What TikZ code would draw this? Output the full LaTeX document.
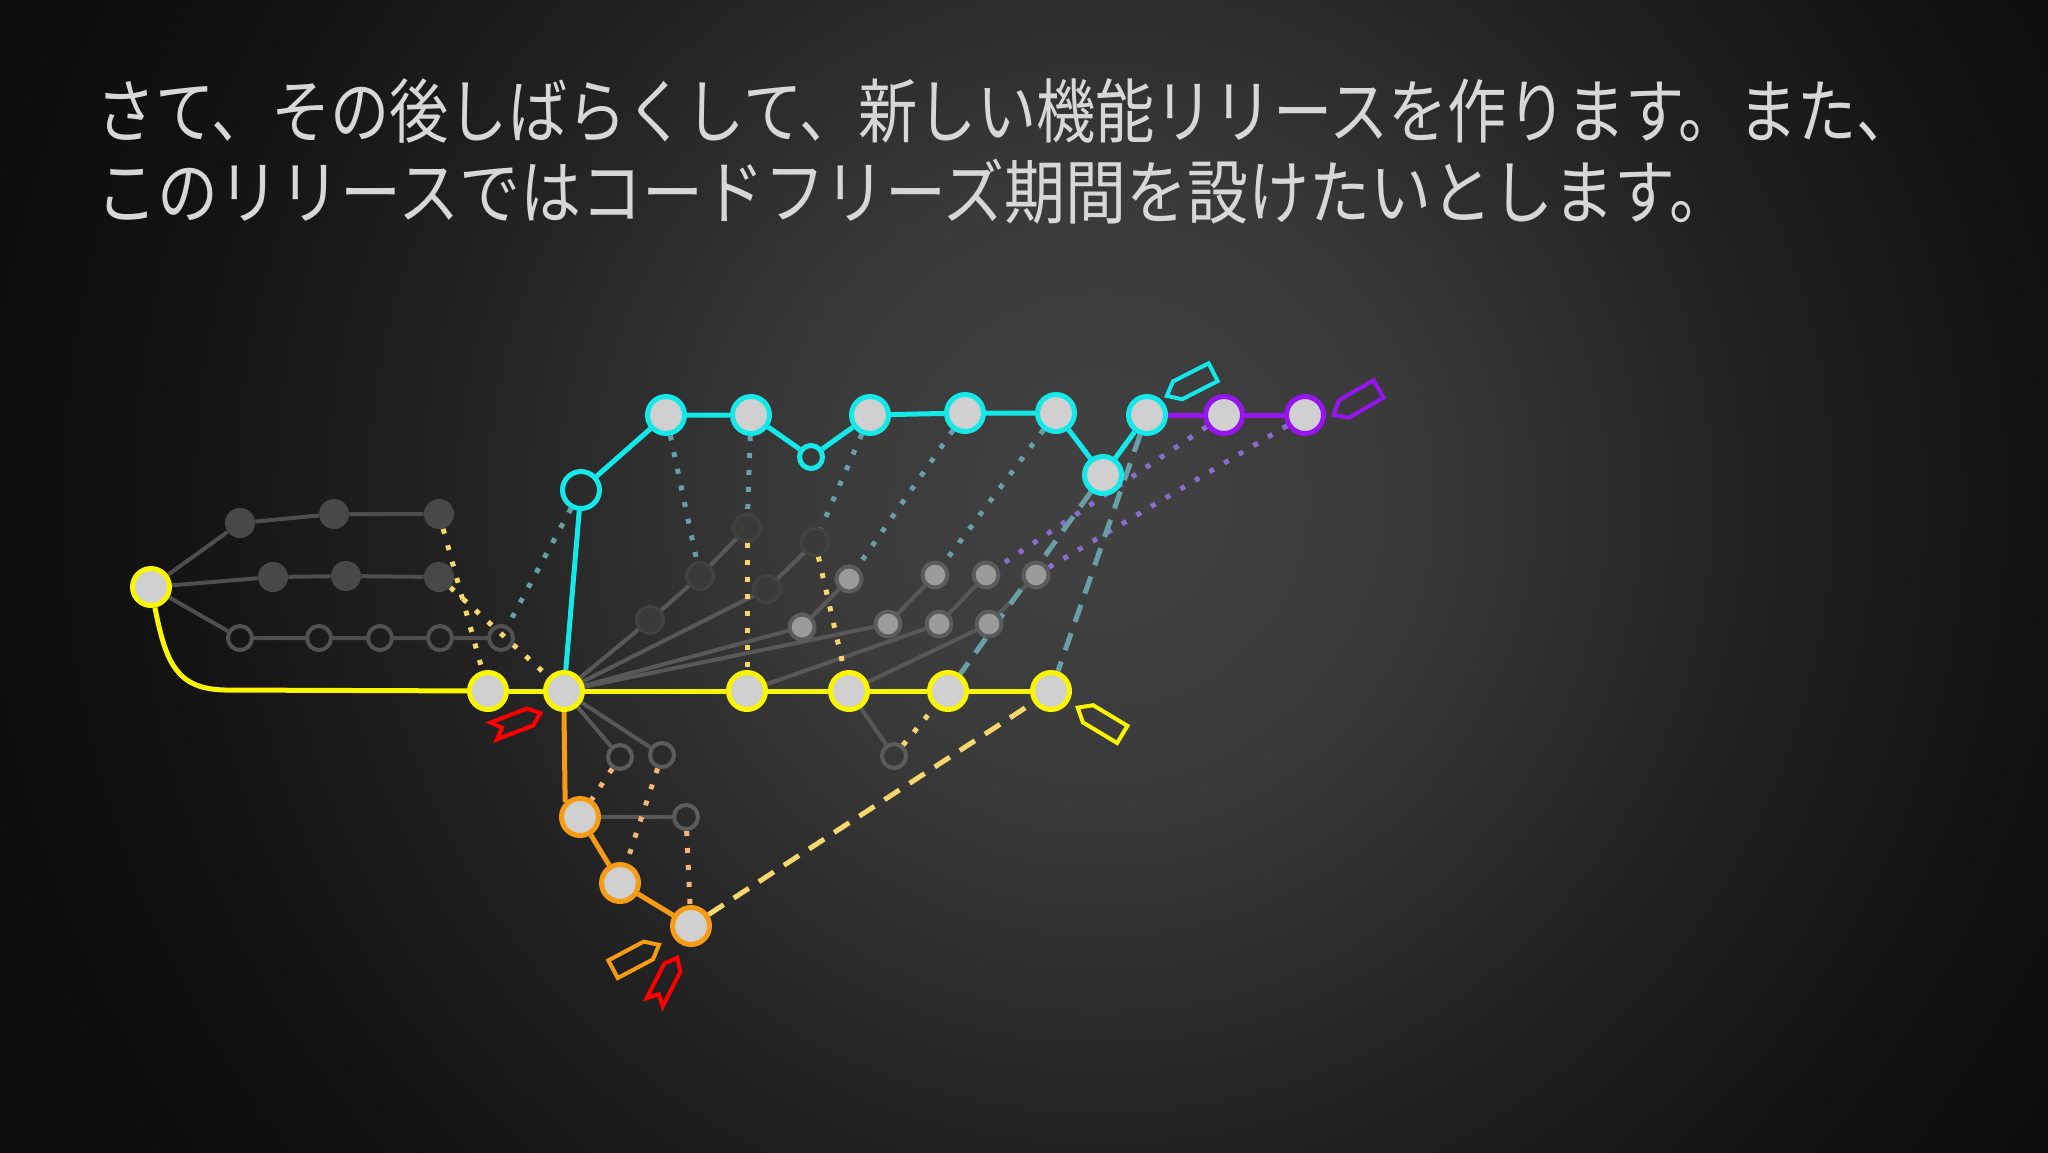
\documentclass[tikz,border=0pt]{standalone}
\usepackage{fontspec}
\newfontfamily\jpfonta[FakeStretch=0.846]{Noto Sans CJK JP}
\newfontfamily\jpfontb[FakeStretch=0.871]{Noto Sans CJK JP}
\definecolor{bgc0}{RGB}{66,66,66}
\definecolor{bgc1}{RGB}{58,58,58}
\definecolor{bgc2}{RGB}{34,34,34}
\definecolor{bgc3}{RGB}{18,18,18}
\definecolor{bgc4}{RGB}{11,11,11}
\definecolor{nfill}{RGB}{208,208,208}
\definecolor{yel}{RGB}{250,245,0}
\definecolor{cyn}{RGB}{20,232,232}
\definecolor{pur}{RGB}{150,20,240}
\definecolor{org}{RGB}{245,155,20}
\definecolor{rd}{RGB}{255,0,0}
\definecolor{gl}{RGB}{78,78,78}
\definecolor{gm}{RGB}{88,88,88}
\definecolor{gdark}{RGB}{72,72,72}
\definecolor{ddark}{RGB}{58,58,58}
\definecolor{dring}{RGB}{66,66,66}
\definecolor{lfill}{RGB}{155,155,155}
\definecolor{lring}{RGB}{92,92,92}
\definecolor{hring}{RGB}{82,82,82}
\definecolor{ering}{RGB}{92,92,92}
\definecolor{dteal}{RGB}{105,160,168}
\definecolor{dyel}{RGB}{245,215,110}
\definecolor{dorg}{RGB}{245,180,120}
\definecolor{dpur}{RGB}{135,110,205}
\definecolor{txt}{RGB}{215,215,215}
\pgfdeclareradialshading{bgglow}{\pgfpoint{0bp}{0bp}}{color(0bp)=(bgc0); color(6.25bp)=(bgc1); color(13.5bp)=(bgc2); color(19.8bp)=(bgc3); color(25bp)=(bgc4); color(50bp)=(bgc4)}
\pgfdeclarelayer{bglayer}
\pgfdeclarelayer{edgelayer}
\pgfsetlayers{bglayer,edgelayer,main}
\begin{document}
\begin{tikzpicture}[x=0.5pt,y=-0.5pt,
 big/.style={circle,draw=#1,fill=nfill,line width=2.5pt,minimum size=18.5pt,inner sep=0pt},
 hollowc/.style={circle,draw=cyn,line width=2.5pt,minimum size=#1,inner sep=0pt},
 gdot/.style={circle,fill=gdark,minimum size=15pt,inner sep=0pt},
 ghol/.style={circle,draw=#1,line width=2pt,minimum size=12pt,inner sep=0pt},
 ddot/.style={circle,fill=ddark,draw=dring,line width=1.5pt,minimum size=13.5pt,inner sep=0pt},
 ldot/.style={circle,fill=lfill,draw=lring,line width=2pt,minimum size=12.5pt,inner sep=0pt},
 sline/.style={line width=2.5pt,draw=#1},
 gline/.style={line width=2pt,draw=#1},
 dotl/.style={line width=2.5pt,draw=#1,dash pattern=on 2.5pt off 6pt},
 dashl/.style={line width=2.5pt,draw=#1,dash pattern=on 9pt off 6pt},
 tagl/.style={line width=2pt,draw=#1,line join=miter},
 titlestyle/.style={anchor=base west,inner sep=0pt,text=txt}
]
\useasboundingbox (0,0) rectangle (2048,1152);
\begin{pgfonlayer}{bglayer}
\fill[bgc4] (0,0) rectangle (2048,1152);
\begin{scope}
\clip (0,0) rectangle (2048,1152);
\shade[shading=bgglow] (-100,-700) rectangle (2300,1700);
\end{scope}
\end{pgfonlayer}

% title
\node[titlestyle,font=\jpfonta\fontsize{35pt}{42pt}\selectfont] (title1) at (96,137) {さて、その後しばらくして、新しい機能リリースを作ります。また、};
\node[titlestyle,font=\jpfontb\fontsize{35pt}{42pt}\selectfont] (title2) at (96,218) {このリリースではコードフリーズ期間を設けたいとします。};

% yellow line nodes
\node[big=yel] (Y0) at (151,587) {};
\node[big=yel] (Y1) at (488,691) {};
\node[big=yel] (Y2) at (564,691) {};
\node[big=yel] (Y3) at (747,691) {};
\node[big=yel] (Y4) at (849,691) {};
\node[big=yel] (Y5) at (948,691) {};
\node[big=yel] (Y6) at (1051,691) {};

% left gray branches
\node[gdot] (G1a) at (240,523) {};
\node[gdot] (G1b) at (334,514) {};
\node[gdot] (G1c) at (439,514) {};
\node[gdot] (G2a) at (273,577) {};
\node[gdot] (G2b) at (346,576) {};
\node[gdot] (G2c) at (439,577) {};
\node[ghol=hring] (H1) at (240,638) {};
\node[ghol=hring] (H2) at (319,638) {};
\node[ghol=hring] (H3) at (380,638) {};
\node[ghol=hring] (H4) at (440,638) {};
\node[ghol=hring] (H5) at (501,638) {};

% cyan line
\node[hollowc=18.5pt] (C0) at (581,490) {};
\node[big=cyn] (C1) at (666,415) {};
\node[big=cyn] (C2) at (751,415) {};
\node[hollowc=11.5pt] (C3) at (811,457) {};
\node[big=cyn] (C4) at (870,415) {};
\node[big=cyn] (C5) at (965,413) {};
\node[big=cyn] (C6) at (1056,413) {};
\node[big=cyn] (C7) at (1103,475) {};
\node[big=cyn] (C8) at (1147,415) {};
\node[big=pur] (P1) at (1224,415) {};
\node[big=pur] (P2) at (1305,415) {};

% middle ghost nodes
\node[ddot] (D1) at (650,620) {};
\node[ddot] (D2) at (700,576) {};
\node[ddot] (D3) at (747,528) {};
\node[ddot] (D4) at (767,589) {};
\node[ddot] (D5) at (815,542) {};
\node[ldot] (L1) at (802,627) {};
\node[ldot] (L2) at (849,579) {};
\node[ldot] (L3) at (888,624) {};
\node[ldot] (L4) at (935,575) {};
\node[ldot] (L5) at (939,624) {};
\node[ldot] (L6) at (986,575) {};
\node[ldot] (L7) at (989,624) {};
\node[ldot] (L8) at (1036,575) {};

% orange branch
\node[big=org] (O1) at (580,817) {};
\node[big=org] (O2) at (620,883) {};
\node[big=org] (O3) at (691,926) {};
\node[ghol=ering] (E1) at (620,757) {};
\node[ghol=ering] (E2) at (662,755) {};
\node[ghol=ering] (E3) at (686,817) {};
\node[ghol=ering] (H6) at (894,756) {};

% tags
\draw[tagl=rd,shift={(517,722)},rotate=21] (-25,-9) -- (14,-9) -- (25,0) -- (14,9) -- (-25,9) -- (-16,0) -- cycle;
\draw[tagl=rd,shift={(666,980)},rotate=63] (-25,-9) -- (14,-9) -- (25,0) -- (14,9) -- (-25,9) -- (-16,0) -- cycle;
\draw[tagl=org,shift={(636,957)},rotate=28] (-26,-10) -- (14,-10) -- (26,0) -- (14,10) -- (-26,10) -- cycle;
\draw[tagl=yel,shift={(1100,721)},rotate=149] (-26,-10) -- (14,-10) -- (26,0) -- (14,10) -- (-26,10) -- cycle;
\draw[tagl=cyn,shift={(1190,384)},rotate=207] (-26,-10) -- (14,-10) -- (26,0) -- (14,10) -- (-26,10) -- cycle;
\draw[tagl=pur,shift={(1356,402)},rotate=210] (-26,-10) -- (14,-10) -- (26,0) -- (14,10) -- (-26,10) -- cycle;

\begin{pgfonlayer}{edgelayer}
% gray connectors
\draw[gline=gl] (Y0) -- (G1a) -- (G1b) -- (G1c);
\draw[gline=gl] (Y0) -- (G2a) -- (G2b) -- (G2c);
\draw[gline=gl] (Y0) -- (H1) -- (H2) -- (H3) -- (H4) -- (H5);
\draw[gline=gm] (Y2) -- (D1) -- (D2) -- (D3);
\draw[gline=gm] (Y2) -- (D4) -- (D5);
\draw[gline=gm] (Y2) -- (L1) -- (L2);
\draw[gline=gm] (Y2) -- (L3) -- (L4);
\draw[gline=gm] (Y3) -- (L5) -- (L6);
\draw[gline=gm] (Y4) -- (L7) -- (L8);
\draw[gline=gm] (Y4) -- (H6);
\draw[gline=gm] (Y2) -- (E1);
\draw[gline=gm] (Y2) -- (E2);
\draw[gline=gm] (O1) -- (E3);
% dotted links
\draw[dotl=dyel] (G1c) -- (Y1);
\draw[dotl=dyel] (G2c) -- (Y2);
\draw[dotl=dyel] (D3) -- (Y3);
\draw[dotl=dyel] (D5) -- (Y4);
\draw[dotl=dyel] (H6) -- (Y5);
\draw[dotl=dteal] (C0) -- (H5);
\draw[dotl=dteal] (C1) -- (D2);
\draw[dotl=dteal] (C2) -- (D3);
\draw[dotl=dteal] (C4) -- (D5);
\draw[dotl=dteal] (C5) -- (L2);
\draw[dotl=dteal] (C6) -- (L4);
\draw[dotl=dpur] (P1) -- (L6);
\draw[dotl=dpur] (P2) -- (L8);
\draw[dotl=dorg] (E1) -- (O1);
\draw[dotl=dorg] (E2) -- (O2);
\draw[dotl=dorg] (E3) -- (O3);
\draw[dashl=dteal] (C7) -- (Y5);
\draw[dashl=dteal] (C8) -- (Y6);
\draw[dashl=dyel] (O3) -- (Y6);
% colored lines
\draw[sline=yel] (Y0) .. controls (166,665) and (178,689) .. (225,690) -- (Y1);
\draw[sline=yel] (Y1) -- (Y2) -- (Y3) -- (Y4) -- (Y5) -- (Y6);
\draw[sline=cyn] (Y2) -- (C0);
\draw[sline=cyn] (C0) -- (C1) -- (C2) -- (C3) -- (C4) -- (C5) -- (C6) -- (C7) -- (C8);
\draw[sline=pur] (C8) -- (P1) -- (P2);
\draw[sline=org] (Y2.south) -- (O1.135);
\draw[sline=org] (O1) -- (O2) -- (O3);
\end{pgfonlayer}
\end{tikzpicture}
\end{document}
